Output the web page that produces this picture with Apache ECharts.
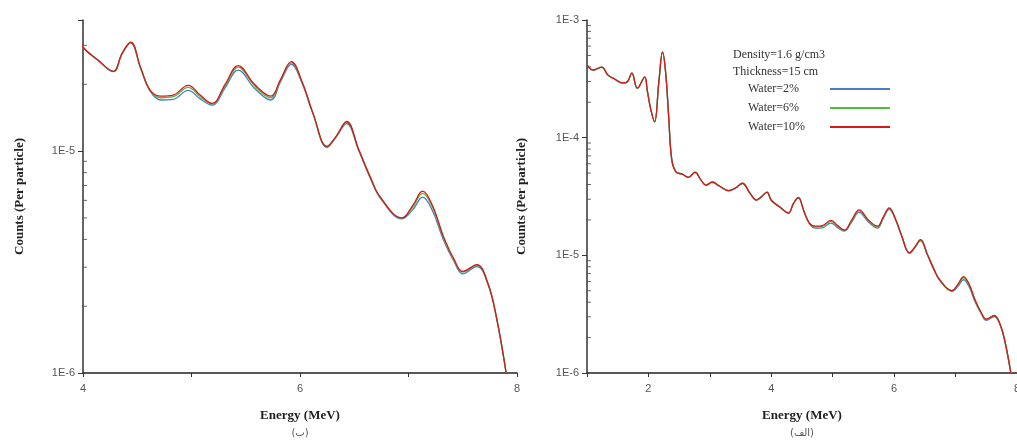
<!DOCTYPE html>
<html>
<head>
<meta charset="utf-8">
<script src="https://cdn.jsdelivr.net/npm/echarts@6/dist/echarts.min.js"></script>
<style>
html, body { margin: 0; padding: 0; background: #fff; }
#main { width: 1017px; height: 441px; }
</style>
</head>
<body>
<div id="main"></div>
<script>
// energy grid (MeV), shared by both panels
const energy = [1.00, 1.10, 1.24, 1.34, 1.45, 1.58, 1.66, 1.73, 1.82, 1.94,
  1.98, 2.04, 2.10, 2.17, 2.23, 2.28, 2.33, 2.38, 2.45, 2.55,
  2.65, 2.76, 2.85, 2.94, 3.04, 3.15, 3.31, 3.42, 3.53, 3.65,
  3.76, 3.84, 3.93, 4.00, 4.14, 4.28, 4.36, 4.44, 4.53, 4.62,
  4.72, 4.83, 4.97, 5.08, 5.19, 5.31, 5.43, 5.58, 5.73, 5.82,
  5.92, 6.02, 6.12, 6.25, 6.33, 6.43, 6.54, 6.65, 6.74, 6.94,
  7.04, 7.13, 7.22, 7.32, 7.42, 7.50, 7.63, 7.73, 7.81, 7.90]

const water2 = [4.14e-4, 3.75e-4, 3.96e-4, 3.40e-4, 3.14e-4, 2.91e-4, 2.99e-4, 3.53e-4, 2.63e-4, 3.26e-4,
  2.53e-4, 1.72e-4, 1.37e-4, 2.98e-4, 5.30e-4, 3.58e-4, 1.50e-4, 6.5e-5, 5.1e-5, 4.9e-5,
  4.6e-5, 5.05e-5, 4.4e-5, 3.94e-5, 4.18e-5, 3.88e-5, 3.54e-5, 3.73e-5, 4.08e-5, 3.38e-5,
  2.94e-5, 3.14e-5, 3.43e-5, 2.94e-5, 2.56e-5, 2.28e-5, 2.74e-5, 3.08e-5, 2.37e-5, 1.86e-5,
  1.70e-5, 1.71e-5, 1.88e-5, 1.72e-5, 1.61e-5, 1.93e-5, 2.32e-5, 1.92e-5, 1.70e-5, 2.05e-5,
  2.46e-5, 2.02e-5, 1.47e-5, 1.04e-5, 1.15e-5, 1.33e-5, 1.01e-5, 7.5e-6, 6.15e-6, 4.95e-6,
  5.45e-6, 6.2e-6, 5.4e-6, 4.0e-6, 3.18e-6, 2.80e-6, 3.02e-6, 2.53e-6, 1.78e-6, 1.0e-6]

const water6 = [4.15e-4, 3.76e-4, 3.97e-4, 3.41e-4, 3.15e-4, 2.92e-4, 3.0e-4, 3.54e-4, 2.64e-4, 3.27e-4,
  2.54e-4, 1.72e-4, 1.36e-4, 2.99e-4, 5.32e-4, 3.59e-4, 1.50e-4, 6.5e-5, 5.1e-5, 4.9e-5,
  4.6e-5, 5.1e-5, 4.4e-5, 3.95e-5, 4.2e-5, 3.9e-5, 3.55e-5, 3.75e-5, 4.1e-5, 3.4e-5,
  2.95e-5, 3.15e-5, 3.45e-5, 2.94e-5, 2.57e-5, 2.29e-5, 2.75e-5, 3.09e-5, 2.38e-5, 1.87e-5,
  1.74e-5, 1.76e-5, 1.94e-5, 1.76e-5, 1.63e-5, 1.97e-5, 2.39e-5, 1.97e-5, 1.74e-5, 2.08e-5,
  2.50e-5, 2.04e-5, 1.48e-5, 1.05e-5, 1.16e-5, 1.35e-5, 1.02e-5, 7.6e-6, 6.2e-6, 5.0e-6,
  5.6e-6, 6.45e-6, 5.6e-6, 4.1e-6, 3.22e-6, 2.85e-6, 3.06e-6, 2.55e-6, 1.79e-6, 1.0e-6]

const water10 = [4.15e-4, 3.76e-4, 3.98e-4, 3.41e-4, 3.15e-4, 2.92e-4, 3.0e-4, 3.55e-4, 2.64e-4, 3.28e-4,
  2.54e-4, 1.72e-4, 1.36e-4, 3.0e-4, 5.35e-4, 3.6e-4, 1.50e-4, 6.5e-5, 5.1e-5, 4.9e-5,
  4.6e-5, 5.1e-5, 4.4e-5, 3.95e-5, 4.2e-5, 3.9e-5, 3.55e-5, 3.75e-5, 4.1e-5, 3.4e-5,
  2.95e-5, 3.15e-5, 3.45e-5, 2.94e-5, 2.57e-5, 2.29e-5, 2.76e-5, 3.1e-5, 2.39e-5, 1.88e-5,
  1.77e-5, 1.79e-5, 1.98e-5, 1.79e-5, 1.64e-5, 2.0e-5, 2.43e-5, 2.0e-5, 1.77e-5, 2.1e-5,
  2.53e-5, 2.05e-5, 1.48e-5, 1.05e-5, 1.16e-5, 1.36e-5, 1.02e-5, 7.6e-6, 6.2e-6, 5.0e-6,
  5.7e-6, 6.6e-6, 5.7e-6, 4.15e-6, 3.25e-6, 2.87e-6, 3.08e-6, 2.55e-6, 1.79e-6, 1.0e-6]

const seriesNames = ['Water=2%', 'Water=6%', 'Water=10%']
const seriesColors = ['#4a7cc9', '#52bd3c', '#d61a1a']

// minor ticks of the log axes (2..9 per decade)
const leftMinorTicks = [2e-6, 3e-6, 4e-6, 5e-6, 6e-6, 7e-6, 8e-6, 9e-6, 2e-5, 3e-5]
const rightMinorTicks = [2e-6, 3e-6, 4e-6, 5e-6, 6e-6, 7e-6, 8e-6, 9e-6,
  2e-5, 3e-5, 4e-5, 5e-5, 6e-5, 7e-5, 8e-5, 9e-5,
  2e-4, 3e-4, 4e-4, 5e-4, 6e-4, 7e-4, 8e-4, 9e-4]

const serif = 'Liberation Serif'
const sans = 'Liberation Sans'

function logLabel(v) {
  const e = Math.log10(v)
  if (Math.abs(e - Math.round(e)) > 1e-6) return ''
  return '1E' + Math.round(e)
}

function xAxis(grid, min, label) {
  return {
    type: 'value',
    gridIndex: grid,
    min: min,
    max: 8,
    interval: 1,
    name: '{a|Energy (MeV)}\n{b|' + label + '}',
    nameLocation: 'middle',
    nameGap: 34,
    nameTextStyle: {
      rich: {
        a: { fontFamily: serif, fontWeight: 'bold', fontSize: 13, color: '#222', lineHeight: 18 },
        b: { fontFamily: 'DejaVu Sans', fontSize: 10, color: '#555', lineHeight: 17 }
      }
    },
    axisLine: { lineStyle: { color: '#222', width: 1.5 } },
    axisTick: { length: 4, lineStyle: { color: '#333' } },
    axisLabel: {
      margin: 10,
      color: '#555',
      fontFamily: sans,
      fontSize: 11,
      formatter: v => (v % 2 === 0 ? String(v) : '')
    },
    splitLine: { show: false }
  }
}

function yAxis(grid, max, gap) {
  return {
    type: 'log',
    logBase: 10,
    gridIndex: grid,
    min: 1e-6,
    max: max,
    name: 'Counts (Per particle)',
    nameLocation: 'middle',
    nameGap: gap,
    nameTextStyle: { fontFamily: serif, fontWeight: 'bold', fontSize: 13, color: '#222' },
    axisLine: { show: true, lineStyle: { color: '#333', width: 1.5 } },
    axisTick: { show: true, length: 5, lineStyle: { color: '#333' } },
    axisLabel: { margin: 8, color: '#555', fontFamily: sans, fontSize: 11, formatter: logLabel },
    splitLine: { show: false }
  }
}

const values = [water2, water6, water10]
const series = []
;[0, 1].forEach(g => {
  values.forEach((vals, i) => {
    series.push({
      name: seriesNames[i],
      type: 'line',
      xAxisIndex: g,
      yAxisIndex: g,
      data: energy.map((e, k) => [e, vals[k]]),
      smooth: 0.4,
      symbol: 'none',
      lineStyle: { color: seriesColors[i], width: 1.3 },
      itemStyle: { color: seriesColors[i] }
    })
  })
})

function minorTicks(g, xMin, ticks) {
  return {
    type: 'scatter',
    xAxisIndex: g,
    yAxisIndex: g,
    data: ticks.map(v => [xMin, v]),
    symbol: 'rect',
    symbolSize: [4, 1],
    symbolOffset: [2, 0],
    itemStyle: { color: '#444' },
    silent: true,
    clip: false,
    z: 5
  }
}
series.push(minorTicks(0, 4, leftMinorTicks))
series.push(minorTicks(1, 1, rightMinorTicks))

const chart = echarts.init(document.getElementById('main'), null, { renderer: 'canvas' })
chart.setOption({
  animation: false,
  backgroundColor: '#fff',
  title: {
    text: 'Density=1.6 g/cm3\nThickness=15 cm',
    left: 733,
    top: 46,
    padding: 0,
    textStyle: { fontFamily: serif, fontSize: 12, fontWeight: 'normal', color: '#333', lineHeight: 17 }
  },
  legend: {
    data: seriesNames,
    orient: 'vertical',
    left: 748,
    top: 83,
    padding: 0,
    align: 'right',
    icon: 'rect',
    itemWidth: 60,
    itemHeight: 2,
    itemGap: 7,
    formatter: '{n|{name}}',
    textStyle: {
      fontFamily: serif,
      fontSize: 12,
      color: '#333',
      rich: { n: { width: 77, height: 14, align: 'left', fontFamily: serif, fontSize: 12, color: '#333' } }
    }
  },
  grid: [
    { left: 83, top: 20, width: 434, height: 353, outerBoundsMode: 'none' },
    { left: 587, top: 20, width: 430, height: 353, outerBoundsMode: 'none' }
  ],
  xAxis: [xAxis(0, 4, '(ب)'), xAxis(1, 1, '(الف)')],
  yAxis: [yAxis(0, 3.9e-5, 57), yAxis(1, 1e-3, 59)],
  series: series
})
</script>
</body>
</html>
